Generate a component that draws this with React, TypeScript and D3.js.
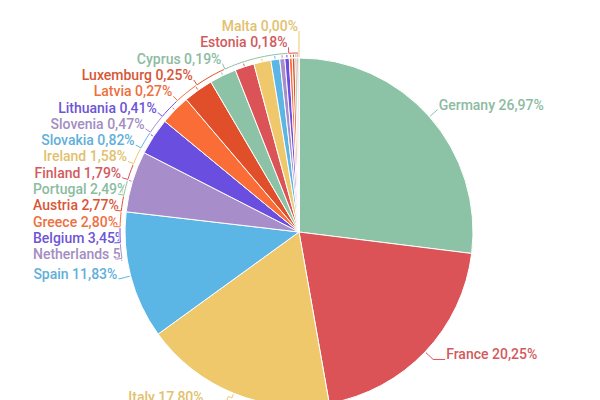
import React from 'react';
import * as d3 from 'd3';

const countries = ['Germany', 'France', 'Italy', 'Spain', 'Netherlands', 'Belgium', 'Greece', 'Austria', 'Portugal', 'Finland', 'Ireland', 'Slovakia', 'Slovenia', 'Lithuania', 'Latvia', 'Luxemburg', 'Cyprus', 'Estonia', 'Malta'];
const shares = [26.97, 20.25, 17.80, 11.83, 5.68, 3.45, 2.80, 2.77, 2.49, 1.79, 1.58, 0.82, 0.47, 0.41, 0.27, 0.25, 0.19, 0.18, 0.00];
const shareLabels = ['26,97%', '20,25%', '17,80%', '11,83%', '5,68%', '3,45%', '2,80%', '2,77%', '2,49%', '1,79%', '1,58%', '0,82%', '0,47%', '0,41%', '0,27%', '0,25%', '0,19%', '0,18%', '0,00%'];
const palette = ['#8cc2a5', '#dc5357', '#eec86a', '#5bb5e5', '#a78dc9', '#6a4edf', '#fa6d37', '#e14f2a'];

const FONT_SIZE = 14;
const FONT = `500 ${FONT_SIZE}px Roboto`;

type Item = { i: number; mid: number; text: string; color: string; ideal: number; yc: number };

export default function App() {
  const W = 600, H = 400;
  const cx = 299, cy = 232, r = 174;
  const R = r + 11, Rk = r + 5;
  const spacing = 16.3, topBound = 26, bottomBound = 397, leftBound = 33;

  const pieData = d3.pie<number>().sort(null).value((d) => d)(shares);
  const arc = d3.arc<d3.PieArcDatum<number>>().innerRadius(0).outerRadius(r);

  const ctx = document.createElement('canvas').getContext('2d')!;
  ctx.font = FONT;

  const polar = (a: number, rad: number): [number, number] => [cx + rad * Math.sin(a), cy - rad * Math.cos(a)];

  const items: Item[] = pieData.map((p, i) => {
    const mid = (p.startAngle + p.endAngle) / 2;
    const ideal = cy - R * Math.cos(mid) - 5;
    return { i, mid, text: `${countries[i]} ${shareLabels[i]}`, color: palette[i % palette.length], ideal, yc: ideal };
  });

  const layout = (list: Item[]) => {
    type C = { items: Item[]; top: number };
    const clusters: C[] = [];
    const clampTop = (top: number, n: number) => Math.min(Math.max(top, topBound), bottomBound - (n - 1) * spacing);
    for (const it of list) {
      clusters.push({ items: [it], top: clampTop(it.ideal, 1) });
      while (clusters.length > 1) {
        const b = clusters[clusters.length - 1];
        const a = clusters[clusters.length - 2];
        if (a.top + a.items.length * spacing > b.top) {
          const all = a.items.concat(b.items);
          const mean = d3.mean(all, (d) => d.ideal)!;
          const top = clampTop(mean - ((all.length - 1) * spacing) / 2, all.length);
          clusters.splice(-2, 2, { items: all, top });
        } else break;
      }
    }
    clusters.forEach((c) => c.items.forEach((it, k) => (it.yc = c.top + k * spacing)));
  };

  const left = items.filter((d) => d.mid > Math.PI).sort((a, b) => b.mid - a.mid);
  const right = items.filter((d) => d.mid <= Math.PI).sort((a, b) => a.mid - b.mid);
  layout(left);
  layout(right);

  const lineGen = d3.line();

  const labels = items.map((it) => {
    const isLeft = it.mid > Math.PI;
    const side = isLeft ? -1 : 1;
    const ay = it.yc + 5;
    const dy = ay - cy;
    const half = Math.sqrt(Math.max(0, R * R - dy * dy));
    const cxp = cx + side * half;
    const elbow = dy > 0 ? (dy * dy) / 1350 : 0;
    const ax = cxp + side * elbow;
    const w = ctx.measureText(it.text).width;
    let start: number;
    if (isLeft) {
      start = ax - 1 - w;
      if (start < leftBound) start = leftBound;
    } else {
      start = ax + 1;
    }
    let phi = Math.atan2(cxp - cx, -(ay - cy));
    while (phi - it.mid > Math.PI) phi -= 2 * Math.PI;
    while (phi - it.mid < -Math.PI) phi += 2 * Math.PI;
    const pts: [number, number][] = [polar(it.mid, r + 1)];
    const steps = Math.max(1, Math.ceil(Math.abs(phi - it.mid) / 0.02));
    for (let s = 0; s <= steps; s++) {
      pts.push(polar(it.mid + ((phi - it.mid) * s) / steps, Rk));
    }
    pts.push([cxp, ay]);
    pts.push([ax, ay]);
    const textColor = d3.interpolateRgb(it.color, '#8a8a8a')(0.12);
    return { ...it, start, path: lineGen(pts)!, textColor };
  });

  return (
    <svg width={W} height={H} style={{ position: 'absolute', left: 0, top: 0, background: '#fff' }} fontFamily="Roboto, sans-serif">
      <g>
        {labels.map((l) => (
          <text key={'t' + l.i} x={l.start} y={l.yc + 5} fontSize={FONT_SIZE} fontWeight={500} fill={l.textColor}>
            {l.text}
          </text>
        ))}
      </g>
      <circle cx={cx} cy={cy} r={r + 5} fill="#fff" />
      <g transform={`translate(${cx},${cy})`}>
        {pieData.map((p, i) => (
          <path key={'s' + i} d={arc(p)!} fill={palette[i % palette.length]} stroke="#fff" strokeWidth={1} />
        ))}
      </g>
      <g fill="none">
        {labels.map((l) => (
          <g key={'l' + l.i}>
            <path d={l.path} stroke="#fff" strokeWidth={2.5} strokeLinejoin="round" />
            <path d={l.path} stroke={l.color} strokeWidth={1} strokeLinejoin="round" />
          </g>
        ))}
      </g>
    </svg>
  );
}
